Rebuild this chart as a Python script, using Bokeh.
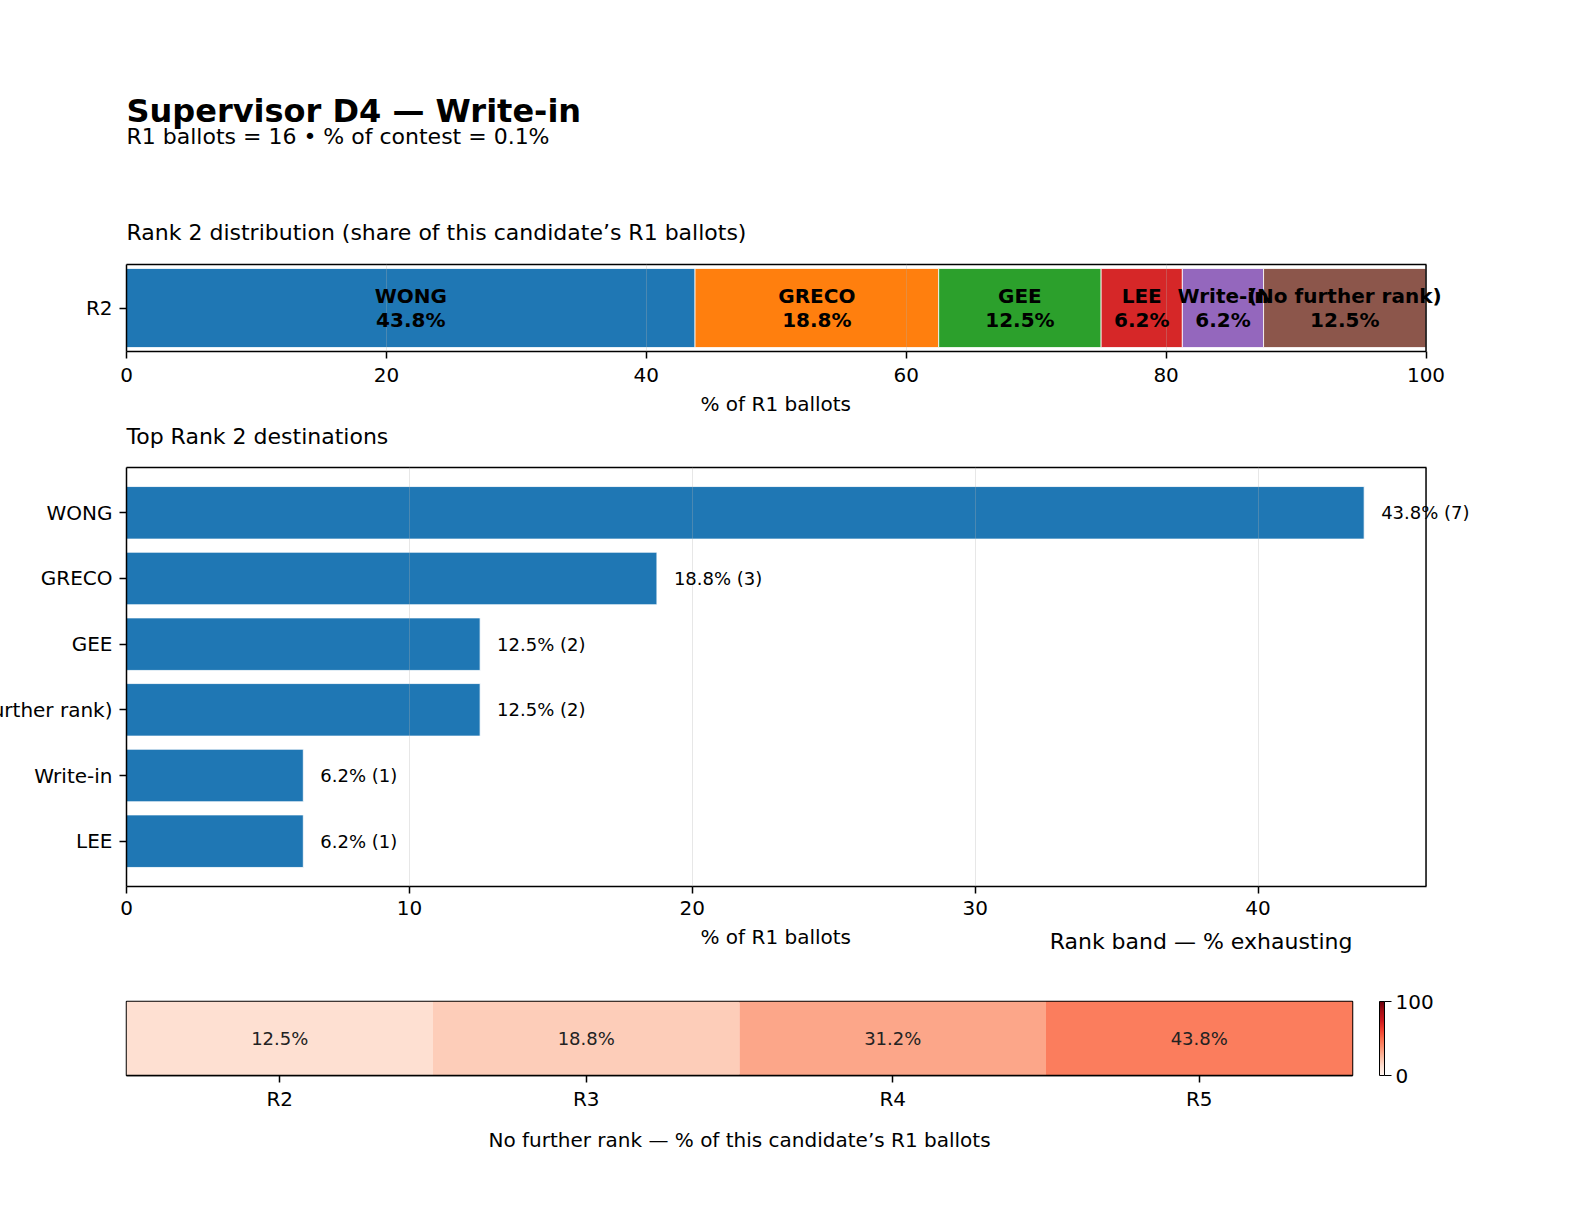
import numpy as np
from bokeh.plotting import figure
from bokeh.models import (Range1d, FixedTicker, LabelSet, ColumnDataSource, Title,
                          LinearColorMapper, ColorBar, LinearAxis, Span)
from bokeh.layouts import column
from bokeh.palettes import Reds256
from bokeh.embed import file_html
from bokeh.resources import INLINE
from bokeh.core.properties import value

# ---------------- data ----------------
TITLE = "Supervisor D4 — Write-in"
SUBTITLE = "R1 ballots = 16 • % of contest = 0.1%"
R1_TOTAL = 16

r2_names = ["WONG", "GRECO", "GEE", "LEE", "Write-in", "(No further rank)"]
r2_counts = [7, 3, 2, 1, 1, 2]
r2_colors = ["#1f77b4", "#ff7f0e", "#2ca02c", "#d62728", "#9467bd", "#8c564b"]

top_names = ["WONG", "GRECO", "GEE", "(No further rank)", "Write-in", "LEE"]
top_counts = [7, 3, 2, 2, 1, 1]

band_labels = ["R2", "R3", "R4", "R5"]
band_counts = [2, 3, 5, 7]

FONT = "DejaVu Sans"
BLACK = "#000000"

L_BORDER = 194
R_BORDER = 90
XLABEL_OFFSET = 574   # left offset of the centred x label inside the wider frame


def style(p):
    p.outline_line_color = BLACK
    p.outline_line_width = 1.5
    for ax in p.axis:
        ax.axis_line_color = BLACK
        ax.axis_line_width = 1.5
        ax.major_tick_line_color = BLACK
        ax.major_tick_line_width = 1.5
        ax.major_tick_out = 7
        ax.major_tick_in = 0
        ax.minor_tick_line_color = None
        ax.major_label_text_font = FONT
        ax.major_label_text_font_size = "20px"
        ax.major_label_text_color = BLACK
        ax.axis_label_text_font = FONT
        ax.axis_label_text_font_size = "20px"
        ax.axis_label_text_font_style = "normal"
        ax.axis_label_text_color = BLACK
        ax.major_label_standoff = 7


def top_line(p, bounds):
    ax = LinearAxis(ticker=FixedTicker(ticks=[]), axis_line_color=BLACK, axis_line_width=1.5,
                    major_tick_line_color=None, minor_tick_line_color=None,
                    major_tick_out=0, major_tick_in=0, major_label_standoff=0,
                    major_label_text_font_size="0px", bounds=bounds)
    p.add_layout(ax, "above")


def text_title(p, text, size, standoff, side="above", align="left", offset=0, bold=False):
    p.add_layout(Title(text=text, align=align, offset=offset, standoff=standoff,
                       text_font=FONT, text_font_size=size,
                       text_font_style="bold" if bold else "normal",
                       text_color=BLACK), side)


# ---------------- panel 1: stacked rank-2 distribution ----------------
shares = np.array(r2_counts, dtype=float) / R1_TOTAL * 100
rights = np.cumsum(shares)
lefts = rights - shares
total = float(rights[-1])
src1 = ColumnDataSource(dict(
    left=lefts, right=rights, mid=(lefts + rights) / 2, y=[0] * len(shares),
    color=r2_colors, name=r2_names,
    pct=[f"{s:.1f}%" for s in shares],
))

p1 = figure(width=1513 + R_BORDER, height=420,
            x_range=Range1d(0, total * 1.015), y_range=Range1d(-0.44, 0.44),
            min_border_left=L_BORDER, min_border_right=R_BORDER,
            min_border_top=264, min_border_bottom=68,
            output_backend="svg", toolbar_location=None)
p1.hbar(y="y", left="left", right="right", height=0.8, fill_color="color",
        line_color="white", line_width=0.8, source=src1)
for col, dy in (("name", 12), ("pct", -12)):
    p1.add_layout(LabelSet(x="mid", y="y", text=col, source=src1, y_offset=dy,
                           text_font=value(FONT), text_font_size=value("20px"),
                           text_font_style=value("bold"), text_color=BLACK,
                           text_align="center", text_baseline="middle"))
p1.xaxis.ticker = FixedTicker(ticks=[0, 20, 40, 60, 80, 100])
p1.xaxis.bounds = (0, total)
p1.yaxis.ticker = FixedTicker(ticks=[0])
p1.yaxis.major_label_overrides = {0: "R2"}
p1.ygrid.visible = False
p1.xgrid.grid_line_color = "#b0b0b0"
p1.xgrid.grid_line_alpha = 0.3
p1.xgrid.level = "annotation"
style(p1)
p1.xaxis.major_label_standoff = 9
p1.outline_line_color = None
p1.add_layout(Span(location=total, dimension="height", line_color=BLACK, line_width=1.5))
text_title(p1, "% of R1 ballots", "20px", 10, side="below", offset=XLABEL_OFFSET)
top_line(p1, (0, total))
text_title(p1, "Rank 2 distribution (share of this candidate’s R1 ballots)", "22px", 40)
p1.add_layout(Title(text=" ", text_font_size="1px", standoff=46), "above")
text_title(p1, SUBTITLE, "22px", 0)
text_title(p1, TITLE, "32px", -16, bold=True)

# ---------------- panel 2: top destinations ----------------
top_pct = np.array(top_counts, dtype=float) / R1_TOTAL * 100
src2 = ColumnDataSource(dict(
    y=list(range(len(top_names))), pct=top_pct,
    label=[f"{v:.1f}% ({c})" for v, c in zip(top_pct, top_counts)],
))
n_top = len(top_names)
pad_y = (n_top - 1 + 0.8) * 0.05
xmax2 = float(top_pct.max()) * 1.05
p2 = figure(width=1542 + R_BORDER, height=556,
            x_range=Range1d(0, xmax2 * 1.0373),
            y_range=Range1d(n_top - 1 + 0.4 + pad_y, -0.4 - pad_y),
            min_border_left=L_BORDER, min_border_right=R_BORDER,
            min_border_top=67, min_border_bottom=70,
            output_backend="svg", toolbar_location=None)
p2.margin = (-20, 0, 0, 0)
p2.border_fill_alpha = 0
p2.hbar(y="y", left=0, right="pct", height=0.8, fill_color="#1f77b4",
        line_color="white", line_width=0.8, source=src2)
p2.add_layout(LabelSet(x="pct", y="y", text="label", source=src2, x_offset=17,
                       text_font=value(FONT), text_font_size=value("18px"),
                       text_color=BLACK, text_align="left", text_baseline="middle"))
p2.xaxis.ticker = FixedTicker(ticks=[0, 10, 20, 30, 40])
p2.xaxis.bounds = (0, xmax2)
p2.yaxis.ticker = FixedTicker(ticks=list(range(n_top)))
p2.yaxis.major_label_overrides = {i: n for i, n in enumerate(top_names)}
p2.ygrid.visible = False
p2.xgrid.grid_line_color = "#b0b0b0"
p2.xgrid.grid_line_alpha = 0.3
p2.xgrid.level = "annotation"
style(p2)
p2.outline_line_color = None
p2.add_layout(Span(location=xmax2, dimension="height", line_color=BLACK, line_width=1.5))
text_title(p2, "% of R1 ballots", "20px", 10, side="below", offset=XLABEL_OFFSET)
top_line(p2, (0, xmax2))
text_title(p2, "Top Rank 2 destinations", "22px", 38)

# ---------------- panel 3: exhaustion heat strip ----------------
pal = list(Reds256)


def _lum(h):
    return int(h[1:3], 16) + int(h[3:5], 16) + int(h[5:7], 16)


if _lum(pal[0]) < _lum(pal[-1]):
    pal = pal[::-1]
mapper = LinearColorMapper(palette=pal, low=0, high=100)

band_pct = np.array(band_counts, dtype=float) / R1_TOTAL * 100
src3 = ColumnDataSource(dict(
    x=list(range(len(band_labels))), y=[0] * len(band_labels), pct=band_pct,
    label=[f"{v:.1f}%" for v in band_pct],
))
p3 = figure(width=1420 + R_BORDER, height=284, x_range=Range1d(-0.5, len(band_labels) - 0.5),
            y_range=Range1d(-0.5, 0.5),
            min_border_left=L_BORDER, min_border_right=R_BORDER,
            min_border_top=125, min_border_bottom=85,
            output_backend="svg", toolbar_location=None)
p3.margin = (-80, 0, 0, 0)
p3.border_fill_alpha = 0
p3.background_fill_alpha = 0
p3.rect(x="x", y="y", width=1, height=1, fill_color={"field": "pct", "transform": mapper},
        line_color=None, source=src3)
p3.text(x="x", y="y", text="label", source=src3, text_font=value(FONT),
        text_font_size=value("18px"), text_color="#222222",
        text_align="center", text_baseline="middle")
p3.xaxis.ticker = FixedTicker(ticks=list(range(len(band_labels))))
p3.xaxis.major_label_overrides = {i: b for i, b in enumerate(band_labels)}
p3.xaxis.axis_label = "No further rank — % of this candidate’s R1 ballots"
p3.yaxis.visible = False
p3.grid.visible = False
style(p3)
p3.xaxis.major_label_standoff = 4
p3.xaxis.axis_label_standoff = 14
text_title(p3, "Rank band — % exhausting", "22px", 95, align="right")

cbar = ColorBar(color_mapper=mapper, ticker=FixedTicker(ticks=[0, 100]),
                width=5, height=74, padding=0, margin=0, location=(27, 0),
                bar_line_color=BLACK, bar_line_width=1,
                major_tick_line_color=BLACK, major_tick_out=7, major_tick_in=0,
                major_label_text_font=FONT, major_label_text_font_size="20px",
                major_label_text_color=BLACK, label_standoff=4,
                border_line_color=None, background_fill_color=None)
p3.add_layout(cbar, "right")

layout = column(p1, p2, p3, spacing=0)
layout.margin = (0, 0, 0, -68)
with open("out.html", "w") as f:
    f.write(file_html(layout, INLINE))
